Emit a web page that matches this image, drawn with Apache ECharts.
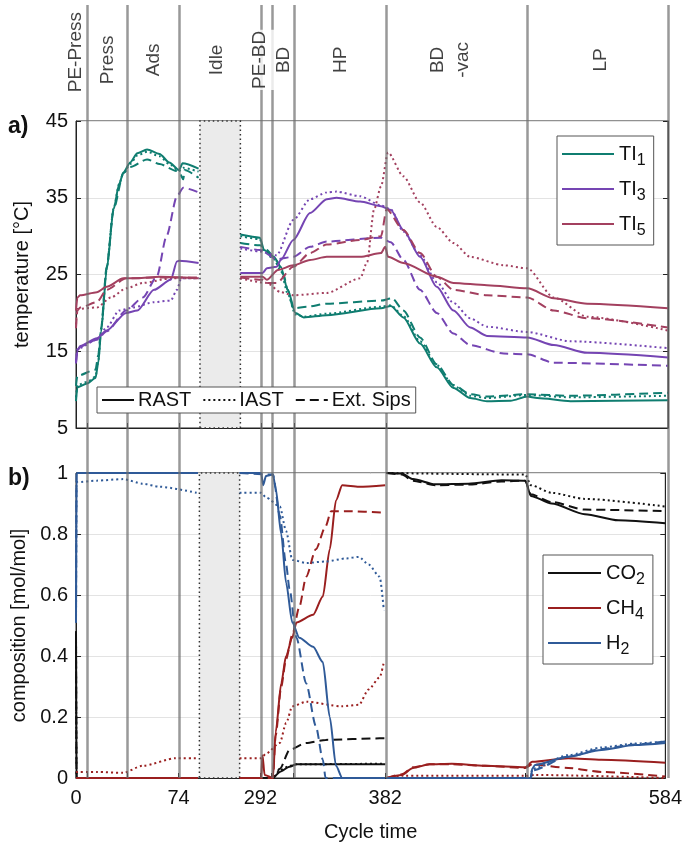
<!DOCTYPE html>
<html><head><meta charset="utf-8">
<script src="https://cdn.jsdelivr.net/npm/echarts@6/dist/echarts.min.js"></script>
<style>html,body{margin:0;padding:0;background:#fff}#c{width:685px;height:853px}</style>
</head><body><div id="c"></div>
<script>
// ---------- data (cycle time in s) ----------
const BREAK = null;
const phaseBounds = [8, 37, 74, 292, 300, 316, 382, 483, 584];
const phaseNames = ['PE-Press', 'Press', 'Ads', 'Idle', 'PE-BD', 'BD', 'HP', 'BD\n-vac', 'LP'];
const phaseLabelTimes = [0, 22.5, 55.5, 167, 291, 308, 349, 428, 536];
const xTickLabels = [0, 74, 292, 382, 584];
const idleGap = [89, 277];      // skipped part of the idle phase
const idleShownWidth = 29;      // width of the skipped part on the axis (s-equivalent)

const TI1_RAST = [[0,8.5],[1,10.3],[8,10.8],[14,11.5],[16,13.5],[18,17.5],[22,25.6],[27,33.5],[31,36.8],[34,38.3],[39,39.6],[44,40.8],[51,41.3],[60,40.7],[67,39.6],[74,38.6],[76.5,39.5],[88,38.8],BREAK,[277,30.2],[291,29.8],[294,28.2],[301,27.3],[306,26],[311,23],[316.5,20],[322.5,19.4],[339,19.7],[378,20.6],[385,20.9],[394,19.4],[406,16],[418,12.9],[430,10.2],[442,8.9],[454,8.5],[471,8.55],[483,9.1],[490,8.9],[514,8.5],[584,8.6]];
const TI1_IAST = [[0,9.0],[1,10.6],[8,11.0],[14,11.7],[16,13.8],[18,17.8],[22,25.8],[27,33.6],[31,36.8],[34,38.2],[39,39.4],[44,40.5],[51,41.0],[60,40.4],[67,39.4],[74,38.5],[77,38.9],[88,38.4],BREAK,[277,30.0],[291,29.6],[294,28.0],[301,27.0],[306,25.5],[311,22.5],[316.5,19.8],[322.5,19.5],[339,19.9],[378,20.8],[385,21.0],[394,19.6],[406,16.3],[418,13.2],[430,10.5],[442,9.2],[454,8.9],[483,9.3],[514,9.0],[584,9.2]];
const TI1_SIPS = [[0,10.5],[1,11.8],[14,12.6],[16,14.5],[18,18],[22,26],[27,33.5],[34,38.2],[39,39.0],[51,40.0],[60,39.4],[72,38.5],[75,38.0],[77,37.4],[78,38.6],[88,37.6],BREAK,[277,29.1],[291,28.8],[296,28.2],[303,26.8],[308,25],[311,23],[315,20.6],[325,20.8],[339,21.2],[378,21.6],[386,21.9],[394,20.3],[406,16.8],[418,13.3],[430,10.6],[442,9.4],[454,9.1],[483,9.4],[514,9.2],[584,9.6]];

const TI3_RAST = [[0,13.4],[1,15.1],[3,15.7],[15,16.7],[22,17.7],[36,20],[44,20.3],[56,23],[68,24.3],[72.5,26.7],[74,26.8],[88,26.5],BREAK,[277,25.2],[293,25.2],[296,25.8],[303,26.0],[306,26.9],[315,29.5],[327,33],[339,34.8],[346,35],[363,34.5],[378,33.9],[385,33.4],[394,30.8],[406,27.3],[418,23.4],[430,20.3],[442,18.1],[454,17],[483,16.8],[502,15.8],[526,14.8],[584,14.2]];
const TI3_IAST = [[0,13.8],[1,15.3],[15,16.5],[22,18.1],[31,20.3],[41,20.7],[56,21.4],[68,21.6],[72.5,23],[75.5,24.5],[88,24.5],BREAK,[277,28.4],[291,28.0],[303,27.5],[315,32.1],[327,34.8],[339,35.7],[346,35.8],[363,35.2],[378,34.0],[385,33.5],[394,30.6],[406,27.5],[418,24],[430,21.3],[442,19.3],[454,18.2],[483,17.5],[514,16.3],[584,15.4]];
const TI3_SIPS = [[0,13.5],[1,15.0],[3,15.6],[15,16.5],[22,17.6],[36,20.3],[48,22],[58,24.7],[65,30],[72.5,35.2],[77,36.3],[88,35.7],BREAK,[277,28.6],[291,28.2],[303,27],[315,27.3],[327,28.6],[339,29.3],[378,29.8],[385,29.2],[394,26.9],[406,23],[418,20],[430,17.3],[442,15.8],[466,14.7],[483,14.6],[502,13.5],[584,13.1]];

const TI5_RAST = [[0,20.3],[1,22.0],[3,22.3],[15,22.7],[22,23.4],[34,24.5],[44,24.5],[60,24.7],[88,24.5],BREAK,[277,24.7],[293,24.7],[296,24.3],[304,25.6],[315,26.2],[327,26.9],[339,27.3],[363,27.3],[378,27.8],[381,28.6],[383,27.3],[394,26.5],[418,24.7],[430,23.9],[454,23.6],[483,23.2],[502,21.9],[526,21.2],[584,20.6]];
const TI5_IAST = [[0,18.5],[1,20.5],[15,20.7],[25,22],[36,23.2],[48,23.9],[68,24.5],[88,24.5],BREAK,[277,24.5],[296,23.9],[306,22.7],[315,22.3],[339,22.6],[363,24.5],[368,26.6],[373,33.5],[378,36.5],[383,40.9],[394,37.8],[406,34.4],[418,31.2],[430,29.1],[442,27.3],[466,26.2],[483,25.8],[502,22],[526,19.5],[584,17.7]];
const TI5_SIPS = [[0,18],[1,20.3],[3,20.7],[15,21.4],[22,23],[36,24.5],[60,24.6],[88,24.6],BREAK,[277,24.6],[293,24.3],[296,23.9],[303,23.9],[315,26],[327,27.8],[339,28.9],[363,29.5],[378,30.0],[382,33.5],[394,30.8],[406,27.8],[418,24.7],[430,23],[454,22.3],[483,22.0],[502,20.3],[526,19.3],[584,18.1]];

const H2_RAST = [[0,0.51],[0.4,1.0],[88,1.0],BREAK,[277,1.0],[292.5,1.0],[294,0.96],[296,0.99],[301,0.995],[303,0.95],[307,0.80],[310.5,0.64],[315,0.51],[320,0.46],[330,0.43],[337,0.38],[342,0.2],[346.5,0.04],[351,0],[382,0],BREAK,[383,0],[487,0],[488,0.03],[490,0.043],[514,0.07],[538,0.092],[562,0.108],[584,0.115]];
const H2_IAST = [[0,0.51],[0.4,0.97],[15,0.975],[34,0.98],[48,0.965],[60,0.955],[87,0.935],BREAK,[277,0.935],[292.5,0.935],[296,0.92],[306,0.89],[310.5,0.81],[315,0.715],[325,0.705],[339,0.71],[354,0.72],[363,0.725],[370,0.70],[378,0.66],[381,0.55],BREAK,[383,0],[487,0],[488,0.03],[514,0.075],[538,0.1],[562,0.113],[584,0.12]];
const H2_SIPS = [[0,0.51],[0.4,1.0],[88,1.0],BREAK,[277,1.0],[301,0.995],[306,0.86],[310.5,0.70],[313,0.62],[318,0.46],[325,0.31],[332,0.17],[337,0.06],[339,0],[382,0],BREAK,[383,0],[487,0],[488,0.025],[514,0.07],[538,0.095],[562,0.11],[584,0.12]];

const CH4_RAST = [[0,0],[88,0],BREAK,[277,0],[292.5,0],[293.5,0.075],[295,0.01],[301,0],[303,0.15],[307,0.31],[310.5,0.40],[315,0.46],[318,0.51],[330,0.535],[337,0.595],[342,0.75],[346.5,0.91],[351,0.96],[363,0.955],[382,0.96],BREAK,[383,0],[394,0.01],[402,0.033],[414,0.045],[430,0.047],[454,0.04],[483,0.035],[488,0.053],[514,0.065],[538,0.06],[584,0.05]];
const CH4_IAST = [[0,0.02],[15,0.02],[34,0.017],[48,0.04],[72,0.065],[87,0.065],BREAK,[277,0.065],[292.5,0.065],[296,0.08],[306,0.115],[310.5,0.18],[315,0.235],[325,0.25],[351,0.235],[363,0.24],[370,0.29],[378,0.33],[381,0.38],BREAK,[383,0],[394,0.007],[483,0.007],[490,0.01],[584,0.0]];
const CH4_SIPS = [[0,0],[88,0],BREAK,[277,0],[301,0],[303,0.14],[307,0.30],[310.5,0.39],[315,0.47],[320,0.56],[325,0.66],[332,0.75],[339,0.825],[343,0.875],[354,0.875],[382,0.87],BREAK,[383,0],[394,0.012],[402,0.035],[414,0.045],[430,0.045],[454,0.04],[483,0.033],[488,0.045],[514,0.033],[538,0.02],[584,0.005]];

const CO2_RAST = [[0,0.48],[0.4,0],[88,0],BREAK,[277,0],[301,0],[306,0.02],[313,0.037],[318,0.045],[382,0.045],BREAK,[383,1.0],[394,0.998],[402,0.98],[418,0.963],[442,0.965],[466,0.976],[483,0.975],[487,0.925],[502,0.90],[526,0.865],[550,0.845],[584,0.835]];
const CO2_IAST = [[0,0.48],[0.4,0],[88,0],BREAK,[277,0],[301,0],[306,0.025],[313,0.04],[318,0.045],[382,0.047],BREAK,[383,1.0],[483,0.995],[487,0.96],[502,0.935],[526,0.915],[584,0.89]];
const CO2_SIPS = [[0,0.48],[0.4,0],[88,0],BREAK,[277,0],[301,0],[306,0.03],[313,0.092],[325,0.115],[339,0.125],[378,0.13],[382,0.13],BREAK,[383,1.0],[394,0.995],[402,0.975],[418,0.96],[442,0.962],[466,0.972],[483,0.975],[487,0.93],[502,0.905],[526,0.88],[584,0.875]];

// ---------- axis mapping (idle phase compressed) ----------
const cut = idleGap[1] - idleGap[0] - idleShownWidth;
function toU(t) {
  if (t <= idleGap[0]) return t;
  if (t >= idleGap[1]) return t - cut;
  return idleGap[0] + (t - idleGap[0]) * idleShownWidth / (idleGap[1] - idleGap[0]);
}
function fromU(u) {
  if (u <= idleGap[0]) return u;
  if (u >= idleGap[1] - cut) return u + cut;
  return idleGap[0] + (u - idleGap[0]) * (idleGap[1] - idleGap[0]) / idleShownWidth;
}
const U_MAX = toU(584);
function conv(arr) {
  const out = []; let last = 0;
  arr.forEach(p => {
    if (p === null) out.push([last + 0.01, '-']);
    else { last = toU(p[0]); out.push([last, p[1]]); }
  });
  return out;
}

const FONT = '"Liberation Sans", Arial, Helvetica, sans-serif';
const C = { TI1: '#0f7d70', TI3: '#7545b3', TI5: '#a3405f', CO2: '#111111', CH4: '#9a1f1f', H2: '#2f5a98' };
const STY = { RAST: 'solid', IAST: [2, 3], SIPS: [9, 5] };

function ser(name, data, color, type, g) {
  return {
    name: name, type: 'line', xAxisIndex: g, yAxisIndex: g, data: conv(data),
    showSymbol: false, symbol: 'none', smooth: 0.25, smoothMonotone: 'x',
    connectNulls: false, z: 3, silent: true,
    lineStyle: { color: color, width: 2, type: type }, itemStyle: { color: color }
  };
}
function dummy(name, color, type, g) {
  return { name: name, type: 'line', xAxisIndex: g, yAxisIndex: g, data: [], symbol: 'none', showSymbol: false,
    lineStyle: { color: color, width: 2, type: type }, itemStyle: { color: color } };
}
const idleArea = g => ({
  type: 'line', xAxisIndex: g, yAxisIndex: g, data: [], silent: true, z: 4,
  markArea: { silent: true, itemStyle: { color: '#ebebeb', borderColor: '#333', borderWidth: 1.5, borderType: [1.5, 3] },
    data: [[{ xAxis: toU(idleGap[0]) }, { xAxis: toU(idleGap[1]) }]] }
});

const series = [
  ser('TI1 RAST', TI1_RAST, C.TI1, STY.RAST, 0), ser('TI1 IAST', TI1_IAST, C.TI1, STY.IAST, 0), ser('TI1 Sips', TI1_SIPS, C.TI1, STY.SIPS, 0),
  ser('TI3 RAST', TI3_RAST, C.TI3, STY.RAST, 0), ser('TI3 IAST', TI3_IAST, C.TI3, STY.IAST, 0), ser('TI3 Sips', TI3_SIPS, C.TI3, STY.SIPS, 0),
  ser('TI5 RAST', TI5_RAST, C.TI5, STY.RAST, 0), ser('TI5 IAST', TI5_IAST, C.TI5, STY.IAST, 0), ser('TI5 Sips', TI5_SIPS, C.TI5, STY.SIPS, 0),
  ser('CO2 RAST', CO2_RAST, C.CO2, STY.RAST, 1), ser('CO2 IAST', CO2_IAST, C.CO2, STY.IAST, 1), ser('CO2 Sips', CO2_SIPS, C.CO2, STY.SIPS, 1),
  ser('CH4 RAST', CH4_RAST, C.CH4, STY.RAST, 1), ser('CH4 IAST', CH4_IAST, C.CH4, STY.IAST, 1), ser('CH4 Sips', CH4_SIPS, C.CH4, STY.SIPS, 1),
  ser('H2 RAST', H2_RAST, C.H2, STY.RAST, 1), ser('H2 IAST', H2_IAST, C.H2, STY.IAST, 1), ser('H2 Sips', H2_SIPS, C.H2, STY.SIPS, 1),
  dummy('RAST', '#111', STY.RAST, 0), dummy('IAST', '#111', STY.IAST, 0), dummy('Ext. Sips', '#111', STY.SIPS, 0),
  dummy('TI1', C.TI1, 'solid', 0), dummy('TI3', C.TI3, 'solid', 0), dummy('TI5', C.TI5, 'solid', 0),
  dummy('CO2', C.CO2, 'solid', 1), dummy('CH4', C.CH4, 'solid', 1), dummy('H2', C.H2, 'solid', 1),
  idleArea(0), idleArea(1),
  { // phase boundaries across the whole figure
    type: 'line', xAxisIndex: 2, yAxisIndex: 4, data: [], silent: true, z: 5,
    markLine: { silent: true, symbol: ['none', 'none'], label: { show: false },
      lineStyle: { color: 'rgba(110,110,110,0.7)', width: 2.5, type: 'solid' },
      data: phaseBounds.map(t => ({ xAxis: toU(t) })) }
  },
  { // phase names
    type: 'scatter', xAxisIndex: 2, yAxisIndex: 4, symbolSize: 0, silent: true, z: 6,
    data: phaseNames.map((n, i) => ({ name: n, value: [toU(phaseLabelTimes[i]), i === 0 ? 0.939 : 0.929],
      label: n === 'PE-BD' ? { backgroundColor: '#fff', padding: [3, 1] } : {} })),
    label: { show: true, position: 'inside', rotate: 90, formatter: '{b}', fontSize: 19, fontFamily: FONT,
      color: '#111', lineHeight: 25, align: 'center', verticalAlign: 'middle' }
  }
];

const tickU = phaseBounds.map(toU);
function xAx(g, withLabels) {
  return {
    type: 'value', gridIndex: g, min: 0, max: U_MAX,
    axisLine: { show: true, lineStyle: { color: '#222', width: 1 } },
    axisTick: { show: true, inside: true, length: 5, customValues: tickU, lineStyle: { color: '#222' } },
    axisLabel: withLabels ? { show: true, customValues: xTickLabels.map(toU), fontSize: 20, fontFamily: FONT, color: '#111', margin: 10,
      formatter: v => String(Math.round(fromU(v))) } : { show: false },
    splitLine: { show: false },
    name: withLabels ? 'Cycle time' : '', nameLocation: 'middle', nameGap: 44,
    nameTextStyle: { fontSize: 20, fontFamily: FONT, color: '#111' }
  };
}
function yAx(g, min, max, interval, name, right) {
  return {
    type: 'value', gridIndex: g, min: min, max: max, interval: interval, position: right ? 'right' : 'left',
    axisLine: { show: true, lineStyle: { color: '#222', width: 1 } },
    axisTick: { show: true, inside: true, length: 5, lineStyle: { color: '#222' } },
    axisLabel: right ? { show: false } : { fontSize: 20, fontFamily: FONT, color: '#111', margin: 8 },
    splitLine: { show: !right, lineStyle: { color: '#e3e3e3', width: 1 } },
    name: right ? '' : name, nameLocation: 'middle', nameGap: 44,
    nameTextStyle: { fontSize: 20, fontFamily: FONT, color: '#111' }
  };
}

const subFmt = n => n.replace(/^([A-Za-z]+)(\d+)$/, '{b|$1}{s|$2}');
const richSub = { b: { fontSize: 20, fontFamily: FONT, color: '#111' }, s: { fontSize: 16, fontFamily: FONT, color: '#111', padding: [14, 0, 0, 0] } };
const noSymbol = { opacity: 0, borderWidth: 0 };

const option = {
  animation: false,
  backgroundColor: '#fff',
  textStyle: { fontFamily: FONT },
  title: [
    { text: 'a)', left: 3, top: 110, textStyle: { fontSize: 23, fontWeight: 'bold', color: '#111', fontFamily: FONT } },
    { text: 'b)', left: 3, top: 462, textStyle: { fontSize: 23, fontWeight: 'bold', color: '#111', fontFamily: FONT } }
  ],
  grid: [
    { left: 76, right: 17, top: 121, height: 307, show: true, borderColor: '#222', borderWidth: 1, backgroundColor: 'transparent' },
    { left: 76, right: 17, top: 473, height: 305, show: true, borderColor: '#222', borderWidth: 1, backgroundColor: 'transparent' },
    { left: 76, right: 17, top: 5, bottom: 75 }
  ],
  xAxis: [xAx(0, false), xAx(1, true), { type: 'value', gridIndex: 2, min: 0, max: U_MAX, show: false }],
  yAxis: [
    yAx(0, 5, 45, 10, 'temperature [°C]', false),
    yAx(1, 0, 1, 0.2, 'composition [mol/mol]', false),
    yAx(0, 5, 45, 10, '', true),
    yAx(1, 0, 1, 0.2, '', true),
    { type: 'value', gridIndex: 2, min: 0, max: 1, show: false }
  ],
  legend: [
    { data: ['RAST', 'IAST', 'Ext. Sips'], left: 97, top: 387, orient: 'horizontal', itemWidth: 32, itemHeight: 10, itemGap: 11,
      padding: [3, 5, 3, 4], backgroundColor: '#fff', borderColor: '#555', borderWidth: 1, z: 20, selectedMode: false,
      itemStyle: noSymbol,
      textStyle: { fontSize: 20, fontFamily: FONT, color: '#111', padding: [0, 0, 0, -1] } },
    { data: ['TI1', 'TI3', 'TI5'], left: 557, top: 136, orient: 'vertical', itemWidth: 52, itemHeight: 10, itemGap: 10,
      padding: [8, 8, 6, 4], backgroundColor: '#fff', borderColor: '#555', borderWidth: 1, z: 20, selectedMode: false,
      itemStyle: noSymbol, formatter: subFmt, textStyle: { rich: richSub } },
    { data: ['CO2', 'CH4', 'H2'], left: 543, top: 555, orient: 'vertical', itemWidth: 53, itemHeight: 10, itemGap: 10,
      padding: [8, 8, 6, 4], backgroundColor: '#fff', borderColor: '#555', borderWidth: 1, z: 20, selectedMode: false,
      itemStyle: noSymbol, formatter: subFmt, textStyle: { rich: richSub } }
  ],
  series: series
};
const chart = echarts.init(document.getElementById('c'), null, { renderer: 'canvas' });
chart.setOption(option);
</script></body></html>
